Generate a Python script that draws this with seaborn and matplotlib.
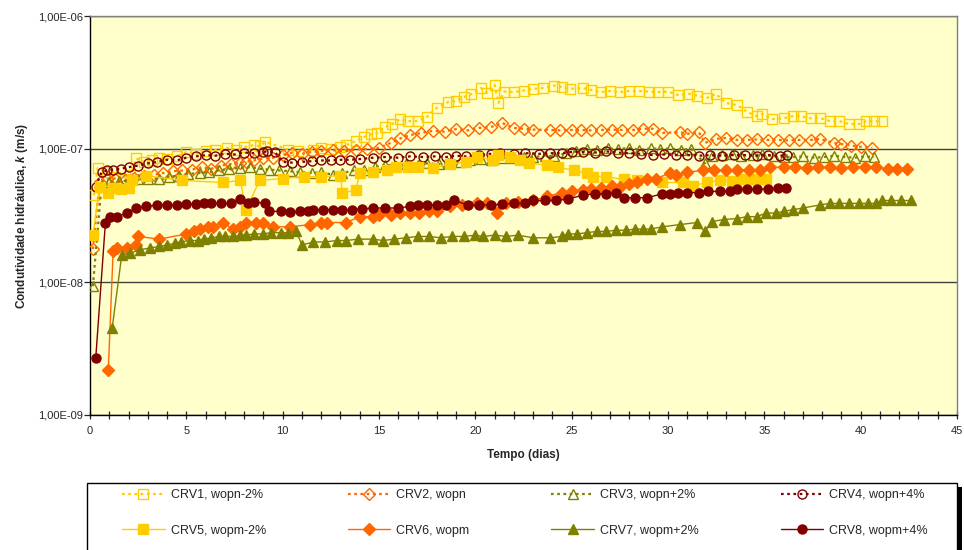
import numpy as np
import pandas as pd
import matplotlib
matplotlib.use("Agg")
import matplotlib.pyplot as plt
import seaborn as sns
from matplotlib.patches import Rectangle
from matplotlib.ticker import MultipleLocator, NullLocator

# k values are given in units of 1e-8 m/s, time in days
t1 = [0.2, 0.4, 0.9, 1.3, 1.7, 2.1, 2.4, 2.8, 3.2, 3.6, 4.0, 4.5, 5.0, 5.5, 6.0, 6.5, 7.1, 7.6, 8.0, 8.5,
      8.8, 9.1, 10.3, 10.8, 11.6, 12.0, 12.5, 13.0, 13.3, 13.8, 14.2, 14.6, 14.9, 15.3, 15.7, 16.1, 16.5, 17.0, 17.5, 18.0,
      18.6, 19.0, 19.4, 19.8, 20.3, 20.6, 21.0, 21.2, 21.5, 22.0, 22.5, 23.0, 23.5, 24.1, 24.5, 24.9, 25.6, 26.0, 26.5, 27.0,
      27.5, 28.0, 28.5, 29.0, 29.5, 30.0, 30.5, 31.1, 31.5, 32.0, 32.5, 33.0, 33.6, 34.1, 34.6, 34.9, 35.4, 36.0, 36.5, 36.9,
      37.4, 37.9, 38.4, 38.9, 39.4, 39.9, 40.3, 40.7, 41.1]
k1 = [4.5, 7.2, 6.7, 6.2, 6.0, 6.4, 8.5, 8.0, 8.3, 8.5, 8.4, 8.8, 9.5, 9.2, 9.6, 9.8, 10.2, 9.9, 10.3, 10.7,
      10.5, 11.3, 9.9, 9.7, 9.9, 10.1, 10.0, 10.4, 10.7, 11.5, 12.3, 12.9, 13.2, 14.6, 15.5, 16.8, 16.2, 16.2, 17.5, 20.4,
      22.6, 23.0, 24.6, 25.9, 28.7, 26.5, 30.3, 22.2, 27.0, 26.8, 27.5, 28.3, 28.8, 30.0, 29.2, 28.3, 28.7, 27.8, 26.8, 27.3,
      26.8, 27.3, 27.3, 27.0, 26.8, 27.0, 25.5, 26.0, 25.2, 24.2, 25.9, 22.2, 21.4, 19.0, 17.7, 18.3, 16.8, 17.0, 17.7, 17.6,
      17.0, 17.1, 16.2, 16.2, 15.4, 15.4, 16.2, 16.2, 16.2]

t2 = [0.15, 0.5, 0.9, 1.3, 1.8, 2.3, 2.8, 3.3, 3.8, 4.3, 4.8, 5.3, 5.8, 6.3, 6.8, 7.3, 7.8, 8.1, 8.5, 9.0,
      9.5, 10.0, 10.5, 11.0, 11.5, 12.0, 12.6, 13.2, 13.8, 14.4, 15.0, 15.6, 16.1, 16.6, 17.2, 17.8, 18.4, 19.0, 19.6, 20.2,
      20.8, 21.4, 22.0, 22.5, 23.0, 23.9, 24.4, 25.0, 25.5, 26.0, 26.5, 27.1, 27.6, 28.2, 28.7, 29.2, 29.7, 30.6, 31.0, 31.6,
      31.9, 32.5, 33.0, 33.6, 34.1, 34.6, 35.2, 35.7, 36.3, 36.8, 37.4, 37.9, 38.6, 39.0, 39.5, 40.0, 40.6]
k2 = [1.77, 5.6, 5.9, 6.0, 5.8, 6.1, 6.3, 6.4, 6.6, 6.8, 6.9, 7.0, 7.3, 7.1, 7.5, 7.7, 7.9, 8.0, 8.2, 8.5,
      8.6, 9.0, 9.4, 9.2, 9.5, 9.7, 9.8, 9.6, 9.9, 10.0, 10.2, 11.1, 12.0, 12.7, 13.2, 13.7, 13.5, 14.1, 13.8, 14.4,
      14.6, 15.7, 14.4, 14.2, 14.0, 13.9, 13.8, 13.9, 13.9, 13.8, 13.9, 14.0, 13.9, 13.9, 14.2, 14.2, 13.2, 13.4, 13.0, 13.4,
      11.1, 11.9, 12.1, 11.7, 11.7, 11.8, 11.7, 11.7, 11.6, 11.7, 11.7, 11.9, 11.1, 10.9, 10.6, 10.4, 10.2]

t3 = [0.15, 0.6, 1.0, 1.5, 2.0, 2.5, 3.0, 3.6, 4.1, 4.6, 5.1, 5.7, 6.2, 6.7, 7.2, 7.8, 8.3, 8.8, 9.3, 9.8,
      10.4, 10.9, 11.5, 12.0, 12.6, 13.1, 13.7, 14.2, 14.8, 15.3, 15.9, 16.4, 17.0, 17.5, 18.1, 18.6, 19.2, 19.7, 20.3, 20.8,
      21.4, 21.9, 22.5, 23.0, 23.6, 24.1, 24.7, 25.2, 25.8, 26.3, 26.9, 27.4, 28.0, 28.5, 29.1, 29.6, 30.1, 30.7, 31.2, 31.9,
      32.3, 32.8, 33.3, 33.8, 34.4, 34.9, 35.5, 36.0, 36.5, 37.0, 37.6, 38.1, 38.6, 39.2, 39.7, 40.2, 40.7]
k3 = [0.93, 5.4, 5.65, 5.7, 5.8, 5.9, 6.0, 6.0, 6.2, 6.3, 6.5, 6.6, 6.7, 6.9, 7.1, 7.2, 7.3, 7.1, 7.0, 6.9,
      6.8, 6.7, 6.6, 6.7, 6.4, 6.6, 6.9, 6.9, 7.3, 7.6, 7.5, 7.7, 7.6, 7.8, 7.7, 7.9, 8.0, 8.2, 8.4, 8.3,
      8.6, 8.5, 8.7, 8.7, 8.9, 8.8, 9.3, 9.6, 10.0, 9.8, 10.1, 10.0, 10.2, 9.9, 10.1, 10.0, 10.1, 9.9, 10.0, 7.8,
      8.9, 9.0, 9.1, 8.9, 9.0, 9.1, 8.8, 8.7, 8.7, 8.8, 8.6, 8.7, 8.9, 8.7, 8.6, 8.8, 8.7]

t4 = [0.3, 0.6, 0.9, 1.2, 1.6, 2.0, 2.5, 3.0, 3.5, 4.0, 4.5, 5.0, 5.5, 6.0, 6.5, 7.0, 7.5, 8.0, 8.5, 9.0,
      9.2, 9.6, 10.0, 10.5, 11.0, 11.5, 12.0, 12.5, 13.0, 13.5, 14.0, 14.7, 15.3, 16.0, 16.6, 17.3, 17.9, 18.5, 19.0, 19.5,
      20.2, 20.8, 21.3, 22.0, 22.6, 23.3, 23.9, 24.5, 25.0, 25.6, 26.2, 26.8, 27.4, 28.0, 28.6, 29.2, 29.8, 30.4, 31.0, 31.6,
      32.2, 32.8, 33.4, 34.0, 34.6, 35.2, 35.8, 36.2]
k4 = [5.2, 6.7, 6.9, 7.0, 7.1, 7.3, 7.5, 7.8, 8.0, 8.3, 8.2, 8.6, 8.8, 9.0, 8.9, 9.2, 9.1, 9.4, 9.3, 9.5,
      9.6, 9.5, 8.0, 7.9, 8.0, 8.1, 8.2, 8.2, 8.3, 8.3, 8.4, 8.6, 8.7, 8.6, 8.8, 8.7, 8.8, 8.7, 8.9, 8.8,
      9.0, 9.2, 9.3, 9.2, 9.3, 9.2, 9.3, 9.3, 9.5, 9.5, 9.4, 9.6, 9.4, 9.3, 9.2, 9.0, 9.1, 9.0, 9.0, 8.9,
      9.0, 8.9, 9.0, 9.0, 8.9, 9.0, 8.9, 9.0]

t5 = [0.15, 0.5, 0.95, 1.2, 1.6, 2.0, 2.2, 2.9, 4.8, 6.9, 7.8, 8.1, 8.8, 10.0, 11.1, 12.0, 13.0, 13.1, 13.8, 14.0,
      14.7, 15.4, 15.9, 16.5, 17.0, 17.8, 18.7, 19.5, 20.1, 20.9, 21.2, 21.8, 22.3, 22.8, 23.7, 24.3, 25.1, 25.8, 26.1, 26.8,
      27.7, 28.4, 29.7, 30.8, 31.3, 32.0, 32.7, 33.3, 33.9, 34.4, 34.8, 35.1]
k5 = [2.25, 5.2, 4.7, 5.1, 5.0, 5.1, 5.8, 6.3, 5.8, 5.6, 5.8, 3.5, 5.8, 6.0, 6.2, 6.2, 6.3, 4.7, 4.9, 6.6,
      6.7, 7.0, 7.3, 7.3, 7.3, 7.2, 7.7, 8.0, 8.7, 8.3, 9.0, 8.7, 8.3, 7.8, 7.6, 7.3, 6.9, 6.6, 6.2, 6.2,
      5.9, 5.8, 5.6, 5.6, 5.3, 5.6, 5.8, 5.7, 5.9, 6.0, 6.0, 6.0]

t6 = [0.95, 1.2, 1.4, 1.9, 2.4, 2.5, 3.6, 5.0, 5.4, 5.7, 6.1, 6.4, 6.9, 7.4, 7.8, 8.1, 8.6, 9.0, 9.5, 10.4,
      11.4, 12.0, 12.3, 13.3, 14.0, 14.7, 15.0, 15.6, 16.1, 16.6, 17.1, 17.6, 18.0, 18.7, 19.3, 20.1, 20.6, 21.1, 21.6, 22.2,
      23.0, 23.7, 24.5, 25.0, 25.6, 26.0, 26.5, 27.1, 27.5, 28.0, 28.4, 28.9, 29.4, 30.1, 30.4, 31.0, 31.8, 32.4, 33.0, 33.6,
      34.2, 34.8, 35.3, 36.0, 36.6, 37.2, 37.8, 38.4, 39.0, 39.6, 40.2, 40.8, 41.4, 41.9, 42.4]
k6 = [0.218, 1.7, 1.8, 1.8, 1.9, 2.2, 2.1, 2.3, 2.4, 2.5, 2.6, 2.6, 2.8, 2.5, 2.6, 2.8, 2.8, 2.8, 2.6, 2.6,
      2.7, 2.8, 2.8, 2.8, 3.1, 3.1, 3.2, 3.2, 3.3, 3.3, 3.3, 3.4, 3.4, 3.7, 3.8, 3.9, 3.9, 3.3, 3.9, 4.0,
      4.1, 4.4, 4.7, 4.8, 4.9, 5.0, 5.1, 5.3, 5.2, 5.5, 5.6, 5.9, 6.0, 6.6, 6.4, 6.7, 6.9, 6.9, 6.9, 6.9,
      7.0, 6.9, 7.3, 7.3, 7.3, 7.2, 7.3, 7.3, 7.2, 7.3, 7.3, 7.3, 7.1, 7.1, 7.1]

t7 = [1.15, 1.65, 2.1, 2.6, 3.1, 3.6, 4.0, 4.4, 4.7, 5.2, 5.6, 5.9, 6.3, 6.7, 7.0, 7.4, 7.8, 8.1, 8.5, 9.0,
      9.4, 9.9, 10.3, 10.7, 11.0, 11.6, 12.2, 12.8, 13.3, 13.9, 14.7, 15.2, 15.8, 16.4, 17.0, 17.6, 18.2, 18.8, 19.4, 20.0,
      20.4, 21.0, 21.6, 22.2, 23.0, 23.9, 24.5, 24.8, 25.3, 25.8, 26.3, 26.8, 27.3, 27.8, 28.3, 28.7, 29.1, 29.7, 30.6, 31.5,
      31.9, 32.3, 32.9, 33.6, 34.1, 34.6, 35.1, 35.6, 36.0, 36.5, 37.0, 37.9, 38.4, 38.9, 39.4, 39.9, 40.4, 40.8, 41.1, 41.6,
      42.1, 42.6]
k7 = [0.45, 1.6, 1.65, 1.75, 1.8, 1.85, 1.9, 1.95, 2.0, 2.05, 2.05, 2.1, 2.15, 2.2, 2.2, 2.2, 2.25, 2.25, 2.3, 2.3,
      2.35, 2.35, 2.35, 2.4, 1.9, 2.0, 2.0, 2.05, 2.05, 2.1, 2.1, 2.05, 2.1, 2.15, 2.2, 2.2, 2.15, 2.2, 2.2, 2.25,
      2.2, 2.25, 2.2, 2.25, 2.15, 2.15, 2.2, 2.3, 2.3, 2.35, 2.4, 2.4, 2.45, 2.45, 2.5, 2.5, 2.5, 2.6, 2.7, 2.8,
      2.4, 2.85, 2.95, 3.0, 3.1, 3.1, 3.3, 3.3, 3.4, 3.5, 3.6, 3.8, 3.9, 3.9, 3.9, 3.9, 3.9, 3.9, 4.1, 4.1,
      4.1, 4.1]

t8 = [0.3, 0.8, 1.05, 1.4, 1.9, 2.4, 2.9, 3.5, 4.0, 4.5, 5.0, 5.5, 5.9, 6.3, 6.8, 7.3, 7.8, 8.2, 8.5, 9.1,
      9.3, 9.9, 10.4, 10.9, 11.3, 11.6, 12.1, 12.6, 13.1, 13.6, 14.1, 14.7, 15.3, 16.0, 16.6, 17.0, 17.5, 18.0, 18.5, 18.9,
      19.6, 20.2, 20.8, 21.4, 22.0, 22.6, 23.0, 23.6, 24.2, 24.8, 25.6, 26.2, 26.8, 27.3, 27.7, 28.3, 28.9, 29.7, 30.1, 30.5,
      31.0, 31.6, 32.1, 32.7, 33.2, 33.6, 34.1, 34.6, 35.2, 35.7, 36.1]
k8 = [0.27, 2.8, 3.1, 3.1, 3.3, 3.6, 3.7, 3.8, 3.8, 3.8, 3.85, 3.85, 3.9, 3.9, 3.9, 3.9, 4.2, 3.9, 4.0, 3.9,
      3.4, 3.4, 3.35, 3.4, 3.4, 3.45, 3.5, 3.5, 3.5, 3.5, 3.55, 3.6, 3.6, 3.6, 3.7, 3.8, 3.8, 3.8, 3.8, 4.1,
      3.8, 3.8, 3.8, 3.85, 3.9, 3.9, 4.1, 4.1, 4.1, 4.2, 4.5, 4.6, 4.6, 4.7, 4.3, 4.3, 4.3, 4.6, 4.6, 4.7,
      4.7, 4.7, 4.8, 4.8, 4.8, 5.0, 5.0, 5.0, 5.0, 5.1, 5.1]

labels = ["CRV1, wopn-2%", "CRV2, wopn", "CRV3, wopn+2%", "CRV4, wopn+4%",
          "CRV5, wopm-2%", "CRV6, wopm", "CRV7, wopm+2%", "CRV8, wopm+4%"]
times = [t1, t2, t3, t4, t5, t6, t7, t8]
values = [k1, k2, k3, k4, k5, k6, k7, k8]

colors = ["#FFCC00", "#FF6600", "#808000", "#800000"] * 2
markers = ["s", "D", "^", "o"] * 2
msizes = [7, 6, 7, 6.5, 7, 6, 7, 6.5]

sns.set_style("white")
plt.rcParams["font.family"] = ["Liberation Sans", "DejaVu Sans"]
plt.rcParams["mathtext.fontset"] = "custom"
plt.rcParams["mathtext.bfit"] = "Liberation Sans:italic:bold"

fig = plt.figure(figsize=(9.64, 5.5), dpi=100)
ax = fig.add_axes([90 / 964, 1 - 415 / 550, 867 / 964, 399 / 550])
ax.set_facecolor("#FFFFCC")

for i in range(8):
    df = pd.DataFrame({"t": times[i], "k": np.array(values[i]) * 1e-8})
    is_open = i < 4
    sns.lineplot(data=df, x="t", y="k", ax=ax, estimator=None, sort=False,
                 color=colors[i],
                 linestyle=(0, (1.2, 1.6)) if is_open else "-",
                 linewidth=1.6 if is_open else 1.0,
                 marker=markers[i], markersize=msizes[i],
                 markerfacecolor="none" if is_open else colors[i],
                 markeredgecolor=colors[i], markeredgewidth=1.0,
                 label=labels[i], zorder=3 + i)

if ax.get_legend() is not None:
    ax.get_legend().remove()

ax.set_yscale("log")
ax.set_ylim(1e-9, 1e-6)
ax.set_xlim(0, 45)
ax.set_yticks([1e-9, 1e-8, 1e-7, 1e-6], labels=["1,00E-09", "1,00E-08", "1,00E-07", "1,00E-06"])
ax.yaxis.set_minor_locator(NullLocator())
ax.xaxis.set_major_locator(MultipleLocator(5))
ax.xaxis.set_minor_locator(MultipleLocator(1))
ax.tick_params(axis="x", which="both", direction="inout", length=6, width=0.9, labelsize=8, pad=5, bottom=True)
ax.tick_params(axis="y", which="major", direction="out", length=4, width=0.9, labelsize=8, pad=1, left=True)
ax.grid(axis="y", which="major", color="#404040", linewidth=1.0, zorder=1)
ax.set_axisbelow(True)

for side in ["left", "bottom"]:
    ax.spines[side].set_color("black")
    ax.spines[side].set_linewidth(1.0)
for side in ["top", "right"]:
    ax.spines[side].set_color("#808080")
    ax.spines[side].set_linewidth(1.0)

ax.set_xlabel("Tempo (dias)", fontsize=8.5, fontweight="bold", labelpad=9)
ax.set_ylabel(r"Condutividade hidráulica, $\mathbfit{k}$ (m/s)", fontsize=8.5, fontweight="bold", labelpad=6)

# legend box with the black shadow on the right, like Excel
x0, y0, x1 = 87, 483, 957
fig.patches.append(Rectangle((x1 / 964, 0), 5 / 964, 1 - (y0 + 4) / 550, transform=fig.transFigure,
                             facecolor="black", edgecolor="none", zorder=1))
fig.patches.append(Rectangle((x0 / 964, -0.05), (x1 - x0) / 964, 1 - y0 / 550 + 0.05, transform=fig.transFigure,
                             facecolor="white", edgecolor="black", linewidth=1.0, zorder=2))

handles, labs = ax.get_legend_handles_labels()
order = [0, 4, 1, 5, 2, 6, 3, 7]
fig.legend([handles[j] for j in order], [labs[j] for j in order], ncol=4, mode="expand",
           loc="upper left", bbox_to_anchor=(122 / 964, 0, 806 / 964, 1 - 489 / 550),
           frameon=False, fontsize=9, handlelength=3.4, handletextpad=0.5,
           labelspacing=1.9, borderpad=0, borderaxespad=0)

fig.savefig("out.png", dpi=100)
